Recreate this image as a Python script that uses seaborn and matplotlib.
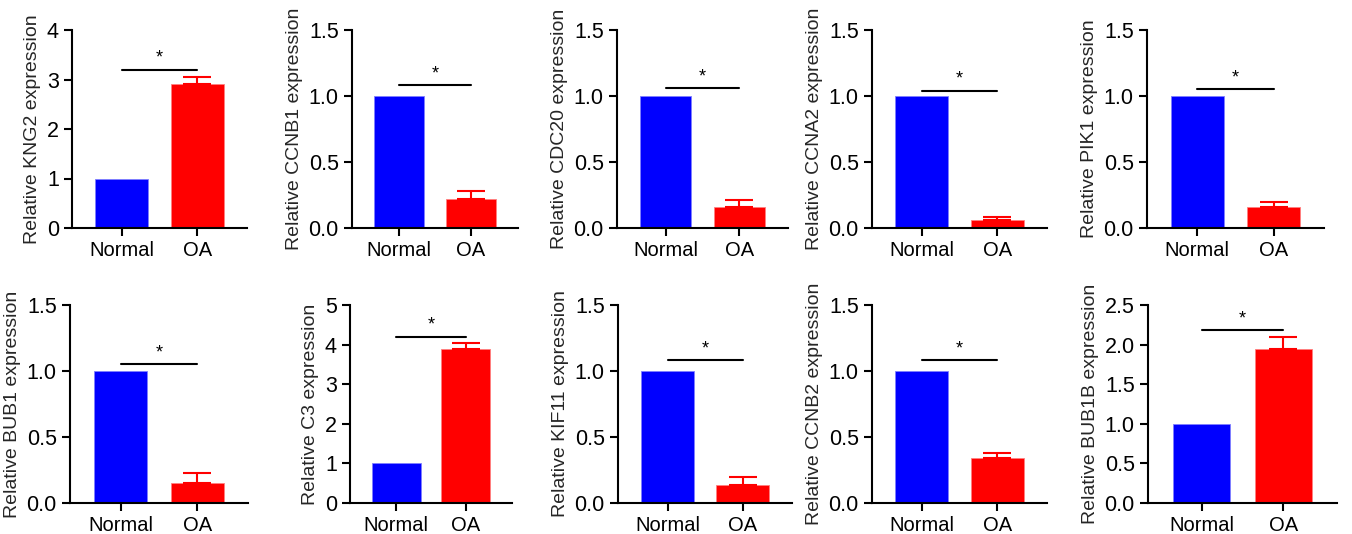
import matplotlib
matplotlib.use("Agg")
import matplotlib.pyplot as plt
import seaborn as sns
import numpy as np
import pandas as pd

# data
genes = ["KNG2", "CCNB1", "CDC20", "CCNA2", "PIK1",
         "BUB1", "C3", "KIF11", "CCNB2", "BUB1B"]
groups = ["Normal", "OA"]
normal_vals = [1.0, 1.0, 1.0, 1.0, 1.0, 1.0, 1.0, 1.0, 1.0, 1.0]
oa_vals = [2.9, 0.22, 0.16, 0.06, 0.16, 0.15, 3.9, 0.14, 0.34, 1.95]
oa_err = [0.15, 0.06, 0.05, 0.02, 0.04, 0.08, 0.15, 0.06, 0.04, 0.14]
y_max = [4, 1.5, 1.5, 1.5, 1.5, 1.5, 5, 1.5, 1.5, 2.5]
y_step = [1, 0.5, 0.5, 0.5, 0.5, 0.5, 1, 0.5, 0.5, 0.5]
sig_y = [3.2, 1.08, 1.06, 1.04, 1.05, 1.05, 4.2, 1.08, 1.08, 2.18]

# panel placement in pixels: (left, width)
panel_px = [(72, 175), (352, 166), (617, 171), (872, 175), (1147, 177),
            (70, 178), (350, 162), (618, 174), (872, 175), (1148, 189)]

sns.set_style("ticks")
plt.rcParams["font.family"] = ["Liberation Sans", "DejaVu Sans"]

W, H = 1352, 534
fig = plt.figure(figsize=(W / 100, H / 100), dpi=100)

for i, gene in enumerate(genes):
    left, width = panel_px[i]
    bottom_px = 306 if i < 5 else 31
    ax = fig.add_axes([left / W, bottom_px / H, width / W, 198 / H])

    df = pd.DataFrame({"group": groups, "value": [normal_vals[i], oa_vals[i]]})
    sns.barplot(data=df, x="group", y="value", hue="group",
                palette=["#0000ff", "#ff0000"], saturation=1, width=0.7,
                ax=ax, legend=False, edgecolor="#7f7fff", linewidth=0.6)
    ax.patches[1].set_edgecolor("#ff8080")

    ax.errorbar(1, oa_vals[i], yerr=[[0], [oa_err[i]]], fmt="none",
                ecolor="#ff0000", elinewidth=1.5, capsize=10, capthick=1.5,
                clip_on=False)

    ax.plot([0, 1], [sig_y[i], sig_y[i]], color="black", lw=1.5, clip_on=False)
    ax.text(0.5, sig_y[i] + y_max[i] * 0.015, "*", ha="center", va="bottom",
            fontsize=13, color="black")

    ax.set_xlim(-0.66, 1.66)
    ax.set_ylim(0, y_max[i])
    ticks = np.arange(0, y_max[i] + 1e-9, y_step[i])
    ax.set_yticks(ticks)
    if y_step[i] < 1:
        ax.set_yticklabels([f"{t:.1f}" for t in ticks])
    else:
        ax.set_yticklabels([f"{int(t)}" for t in ticks])

    ax.set_xlabel("")
    ax.set_ylabel(f"Relative {gene} expression", fontsize=14, labelpad=4)
    ax.tick_params(axis="both", width=1.5, length=6,
                   direction="out", colors="black")
    ax.tick_params(axis="y", labelsize=15.5)
    ax.tick_params(axis="x", labelsize=14.5)
    for s in ["left", "bottom"]:
        ax.spines[s].set_linewidth(1.5)
        ax.spines[s].set_color("black")
    sns.despine(ax=ax)

fig.savefig("out.png", dpi=100)
